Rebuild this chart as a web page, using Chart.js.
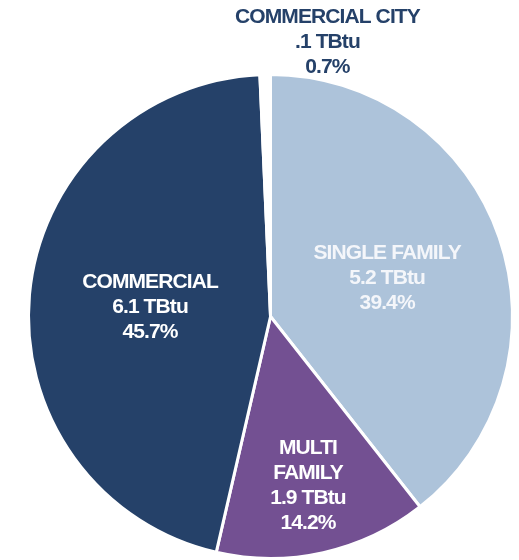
<!DOCTYPE html>
<html>
<head>
<meta charset="utf-8">
<script src="https://cdn.jsdelivr.net/npm/chart.js@4"></script>
<style>
    html, body { margin: 0; padding: 0; background: #ffffff; }
    #wrap { width: 519px; height: 560px; position: relative; }
</style>
</head>
<body>
<div id="wrap"><canvas id="pieChart"></canvas></div>
<script>
// Dados do gráfico (ordem: a partir das 12h, sentido horário)
const categories = [['SINGLE FAMILY'], ['MULTI', 'FAMILY'], ['COMMERCIAL'], ['COMMERCIAL CITY']];
const tbtu = ['5.2', '1.9', '6.1', '.1'];
const shares = [39.4, 14.2, 45.7, 0.7];

const sliceColors = ['#adc3da', '#735092', '#254169', '#ffffff'];
const textColors = ['#f4f6fa', '#ffffff', '#ffffff', '#254169'];

// Posição dos rótulos: fração do raio ao longo do ângulo médio + ajuste em px
const labelPlace = [
    { frac: 0.51, dx: 0, dy: 0 },
    { frac: 0.71, dx: 0, dy: 0 },
    { frac: 0.50, dx: 0, dy: 0 },
    { frac: 1.14, dx: 63, dy: 0 }
];

// Plugin simples para desenhar os rótulos dentro das fatias
const sliceLabels = {
    id: 'sliceLabels',
    afterDatasetsDraw(chart) {
        const ctx = chart.ctx;
        const arcs = chart.getDatasetMeta(0).data;
        const fontSize = 21;
        const lineHeight = 25;
        ctx.save();
        ctx.font = 'bold ' + fontSize + 'px "Liberation Sans", Arial, sans-serif';
        ctx.letterSpacing = '-0.9px';
        ctx.textAlign = 'center';
        ctx.textBaseline = 'alphabetic';
        arcs.forEach((arc, i) => {
            const mid = (arc.startAngle + arc.endAngle) / 2;
            const place = labelPlace[i];
            const cx = arc.x + Math.cos(mid) * arc.outerRadius * place.frac + place.dx;
            const cy = arc.y + Math.sin(mid) * arc.outerRadius * place.frac + place.dy;
            const lines = [...categories[i], tbtu[i] + ' TBtu', shares[i].toFixed(1) + '%'];
            const first = cy - (lines.length - 1) * lineHeight / 2 + fontSize * 0.36;
            ctx.fillStyle = textColors[i];
            lines.forEach((txt, k) => {
                ctx.fillText(txt, cx, first + k * lineHeight);
            });
        });
        ctx.restore();
    }
};

const ctx = document.getElementById('pieChart').getContext('2d');
window.myPieChart = new Chart(ctx, {
    type: 'pie',
    data: {
        labels: categories.map(c => c.join(' ')),
        datasets: [{
            data: shares,
            backgroundColor: sliceColors,
            borderColor: '#ffffff',
            borderWidth: 3,
            hoverOffset: 0
        }]
    },
    options: {
        responsive: true,
        maintainAspectRatio: false,
        animation: false,
        rotation: 0,
        layout: {
            padding: { top: 73, bottom: -7, left: 24, right: 2 }
        },
        plugins: {
            legend: { display: false },
            tooltip: { enabled: false }
        }
    },
    plugins: [sliceLabels]
});
</script>
</body>
</html>
